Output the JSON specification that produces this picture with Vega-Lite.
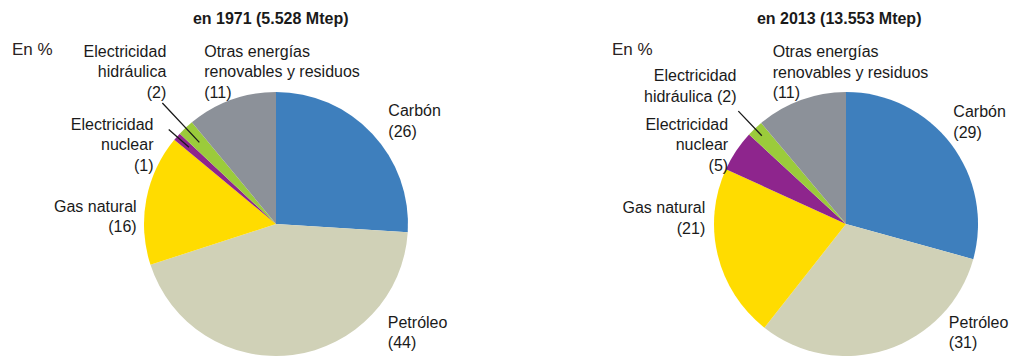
{
  "$schema": "https://vega.github.io/schema/vega-lite/v6.json",
  "padding": {"left": 12, "top": 10, "right": 0, "bottom": 0},
  "background": "white",
  "config": {
    "view": {"stroke": null},
    "font": "Liberation Sans",
    "concat": {"spacing": 164},
    "title": {"font": "Liberation Sans", "color": "#1a1a1a"}
  },
  "datasets": {
    "d1971": [
      {"fuente": "Carbón", "valor": 26, "orden": 1, "etiqueta": "Carbón\n(26)"},
      {"fuente": "Petróleo", "valor": 44, "orden": 2, "etiqueta": "Petróleo\n(44)"},
      {"fuente": "Gas natural", "valor": 16, "orden": 3, "etiqueta": "Gas natural\n(16)"},
      {"fuente": "Electricidad nuclear", "valor": 1, "orden": 4, "etiqueta": "Electricidad\nnuclear\n(1)"},
      {"fuente": "Electricidad hidráulica", "valor": 2, "orden": 5, "etiqueta": "Electricidad\nhidráulica\n(2)"},
      {"fuente": "Otras energías renovables y residuos", "valor": 11, "orden": 6, "etiqueta": "Otras energías\nrenovables y residuos\n(11)"}
    ],
    "d2013": [
      {"fuente": "Carbón", "valor": 29, "orden": 1, "etiqueta": "Carbón\n(29)"},
      {"fuente": "Petróleo", "valor": 31, "orden": 2, "etiqueta": "Petróleo\n(31)"},
      {"fuente": "Gas natural", "valor": 21, "orden": 3, "etiqueta": "Gas natural\n(21)"},
      {"fuente": "Electricidad nuclear", "valor": 5, "orden": 4, "etiqueta": "Electricidad\nnuclear\n(5)"},
      {"fuente": "Electricidad hidráulica", "valor": 2, "orden": 5, "etiqueta": "Electricidad\nhidráulica (2)"},
      {"fuente": "Otras energías renovables y residuos", "valor": 11, "orden": 6, "etiqueta": "Otras energías\nrenovables y residuos\n(11)"}
    ]
  },
  "hconcat": [
    {
      "title": {"text": "en 1971 (5.528 Mtep)", "fontSize": 16, "fontWeight": "bold", "anchor": "middle", "offset": 14, "dx": 41},
      "vconcat": [
        {
          "width": 264,
          "height": 264,
          "title": {"text": "En %", "anchor": "start", "frame": "group", "dx": -132, "offset": -15, "fontSize": 17, "fontWeight": "normal", "color": "#2b2222"},
          "data": {"name": "d1971"},
          "encoding": {
            "theta": {"field": "valor", "type": "quantitative", "stack": true},
            "order": {"field": "orden", "type": "ordinal"},
            "detail": {"field": "fuente", "type": "nominal"}
          },
          "layer": [
            {
              "mark": {"type": "arc"},
              "encoding": {
                "color": {
                  "field": "fuente", "type": "nominal", "legend": null,
                  "scale": {
                    "domain": ["Carbón", "Petróleo", "Gas natural", "Electricidad nuclear", "Electricidad hidráulica", "Otras energías renovables y residuos"],
                    "range": ["#3E7FBD", "#D0D1B7", "#FFDC00", "#8E258D", "#9BCB3B", "#8C9199"]
                  }
                }
              }
            },
            {
              "mark": {
                "type": "arc", "filled": false, "stroke": "#1a1a1a", "strokeWidth": 1.3, "padAngle": 1.5,
                "radius": {"expr": "datum.orden == 4 ? 143 : 166"},
                "radius2": {"expr": "datum.orden == 4 ? 116 : 112"}
              },
              "encoding": {
                "strokeOpacity": {"condition": {"test": "datum.orden == 4 || datum.orden == 5", "value": 1}, "value": 0}
              }
            },
            {
              "mark": {
                "type": "text", "radius": 150, "fontSize": 16, "lineHeight": 20.5, "lineBreak": "\n",
                "baseline": "middle", "color": "#1a1a1a",
                "align": {"expr": "datum.orden == 1 || datum.orden == 2 || datum.orden == 6 ? 'left' : 'right'"},
                "dx": {"expr": "datum.orden == 1 ? 3 : datum.orden == 2 ? 93 : datum.orden == 3 ? 8 : datum.orden == 4 ? -10 : datum.orden == 5 ? -7 : -21"},
                "dy": {"expr": "datum.orden == 1 ? -10 : datum.orden == 2 ? -50 : datum.orden == 3 ? 11 : datum.orden == 4 ? 0 : datum.orden == 5 ? -63 : -31"}
              },
              "encoding": {"text": {"field": "etiqueta", "type": "nominal"}}
            }
          ]
        }
      ]
    },
    {
      "title": {"text": "en 2013 (13.553 Mtep)", "fontSize": 16, "fontWeight": "bold", "anchor": "middle", "offset": 14, "dx": 29},
      "vconcat": [
        {
          "width": 264,
          "height": 264,
          "title": {"text": "En %", "anchor": "start", "frame": "group", "dx": -102, "offset": -15, "fontSize": 17, "fontWeight": "normal", "color": "#2b2222"},
          "data": {"name": "d2013"},
          "encoding": {
            "theta": {"field": "valor", "type": "quantitative", "stack": true},
            "order": {"field": "orden", "type": "ordinal"},
            "detail": {"field": "fuente", "type": "nominal"}
          },
          "layer": [
            {
              "mark": {"type": "arc"},
              "encoding": {
                "color": {
                  "field": "fuente", "type": "nominal", "legend": null,
                  "scale": {
                    "domain": ["Carbón", "Petróleo", "Gas natural", "Electricidad nuclear", "Electricidad hidráulica", "Otras energías renovables y residuos"],
                    "range": ["#3E7FBD", "#D0D1B7", "#FFDC00", "#8E258D", "#9BCB3B", "#8C9199"]
                  }
                }
              }
            },
            {
              "mark": {
                "type": "arc", "filled": false, "stroke": "#1a1a1a", "strokeWidth": 1.3, "padAngle": 1.5,
                "radius": 156, "radius2": 122
              },
              "encoding": {
                "strokeOpacity": {"condition": {"test": "datum.orden == 5", "value": 1}, "value": 0}
              }
            },
            {
              "mark": {
                "type": "text", "radius": 150, "fontSize": 16, "lineHeight": 20.5, "lineBreak": "\n",
                "baseline": "middle", "color": "#1a1a1a",
                "align": {"expr": "datum.orden == 1 || datum.orden == 2 || datum.orden == 6 ? 'left' : 'right'"},
                "dx": {"expr": "datum.orden == 1 ? -12 : datum.orden == 2 ? 56 : datum.orden == 3 ? 5 : datum.orden == 4 ? 7 : datum.orden == 5 ? -6 : -22"},
                "dy": {"expr": "datum.orden == 1 ? -21 : datum.orden == 2 ? -44 : datum.orden == 3 ? -51 : datum.orden == 4 ? -16 : datum.orden == 5 ? -39 : -31"}
              },
              "encoding": {"text": {"field": "etiqueta", "type": "nominal"}}
            }
          ]
        }
      ]
    }
  ]
}
